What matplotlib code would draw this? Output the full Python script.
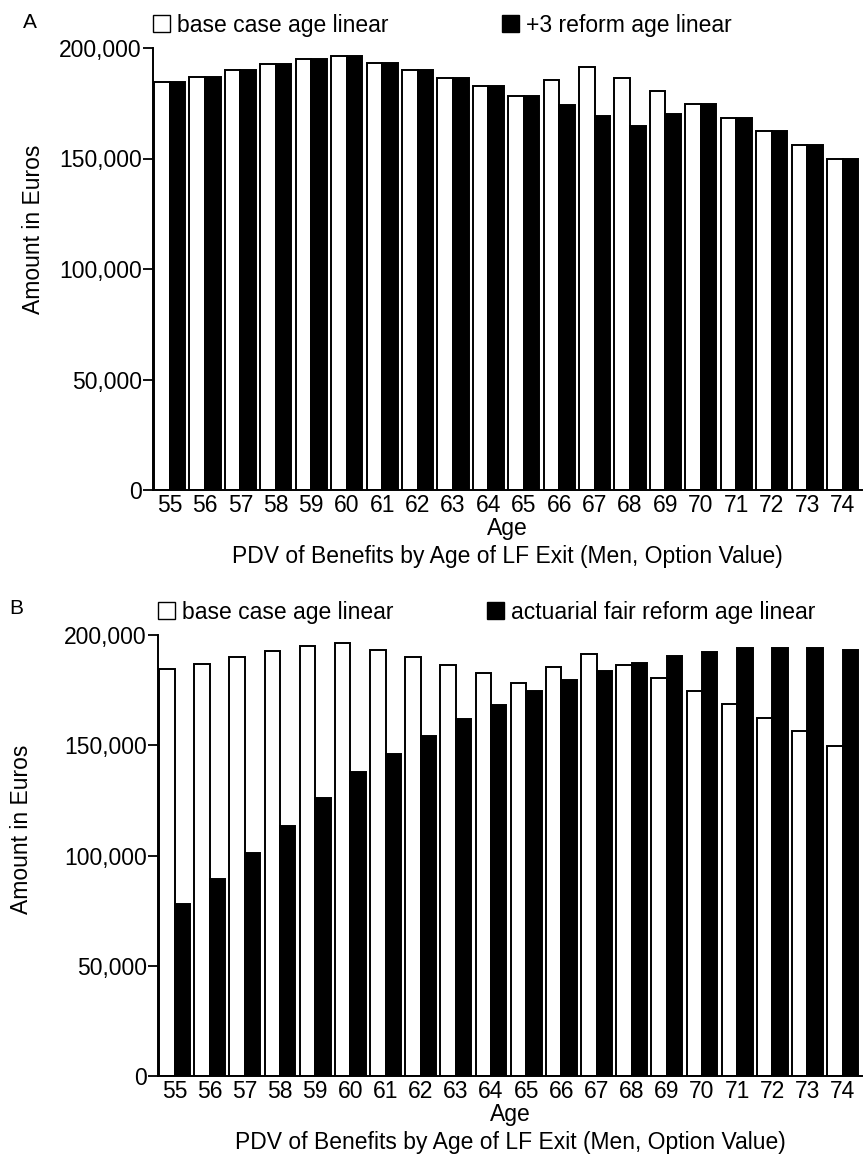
import numpy as np
import matplotlib
matplotlib.use("Agg")
import matplotlib.pyplot as plt
from matplotlib.patches import Patch
from matplotlib.ticker import FuncFormatter

plt.rcParams['font.family'] = ['Liberation Sans', 'DejaVu Sans']

# data (amounts in euros)
ages = list(range(55, 75))
base_case = [184500, 186800, 190100, 192800, 194900, 196400, 193200, 190100, 186500, 182600,
             178200, 185600, 191600, 186200, 180500, 174600, 168500, 162400, 156300, 149700]
reform_plus3 = [184500, 186800, 190100, 192800, 194900, 196400, 193200, 190100, 186500, 182600,
                178200, 174000, 169400, 164700, 170000, 174600, 168500, 162400, 156300, 149700]
reform_fair = [78000, 89200, 101300, 113400, 126000, 137700, 146200, 154100, 161700, 168300,
               174400, 179700, 183900, 187500, 190500, 192500, 193900, 194200, 194000, 193100]

label_base = "base case age linear"
label_a = "+3 reform age linear"
label_b = "actuarial fair reform age linear"
xtitle = "PDV of Benefits by Age of LF Exit (Men, Option Value)"

W, H = 864, 1158
fig = plt.figure(figsize=(W / 100, H / 100), dpi=100)
fs = 16.5


def panel(rect, reform, reform_label, letter, letter_xy, leg2_x, ylab_xy):
    ax = fig.add_axes(rect)
    x = np.arange(len(ages))
    bw = 0.44
    ax.bar(x - bw / 2, base_case, width=bw, color='white', edgecolor='black', linewidth=1.4)
    ax.bar(x + bw / 2, reform, width=bw, color='black', edgecolor='black', linewidth=1.4)
    ax.set_xlim(-0.47, 19.55)
    ax.set_ylim(0, 200000)
    ax.set_xticks(x)
    ax.set_xticklabels([str(a) for a in ages], fontsize=fs)
    ax.tick_params(axis='x', length=0, pad=3)
    ax.set_yticks([0, 50000, 100000, 150000, 200000])
    ax.yaxis.set_major_formatter(FuncFormatter(lambda v, p: f"{int(v):,}"))
    ax.tick_params(axis='y', labelsize=fs, length=7, width=1.3, direction='out', pad=1)
    for s in ['top', 'right']:
        ax.spines[s].set_visible(False)
    ax.spines['left'].set_linewidth(1.4)
    ax.spines['bottom'].set_linewidth(1.4)
    ax.set_xlabel("Age", fontsize=fs, labelpad=0)
    ax.set_ylabel("Amount in Euros", fontsize=fs)
    ax.yaxis.set_label_coords(*ylab_xy)
    ax.text(0.5, -0.15, xtitle, transform=ax.transAxes, ha='center', va='center', fontsize=fs)

    # legend entries placed separately like in the source
    h1 = Patch(facecolor='white', edgecolor='black', linewidth=1.0)
    h2 = Patch(facecolor='black', edgecolor='black', linewidth=1.0)
    kw = dict(loc='lower left', frameon=False, fontsize=fs, handlelength=0.75, handleheight=0.75,
              handletextpad=0.3, borderpad=0, borderaxespad=0)
    leg1 = ax.legend([h1], [label_base], bbox_to_anchor=(0.0, 1.026), **kw)
    ax.add_artist(leg1)
    ax.legend([h2], [reform_label], bbox_to_anchor=(leg2_x, 1.026), **kw)

    fig.text(letter_xy[0] / W, 1 - letter_xy[1] / H, letter, fontsize=15, ha='center', va='center')
    return ax


panel([153 / W, 1 - 490 / H, (862 - 153) / W, 442 / H], reform_plus3, label_a, "A", (30, 22),
      0.492, (-0.152, 0.59))
panel([158 / W, 1 - 1076 / H, (862 - 158) / W, 441 / H], reform_fair, label_b, "B", (16, 608),
      0.467, (-0.178, 0.56))

fig.savefig("out.png", dpi=100)
